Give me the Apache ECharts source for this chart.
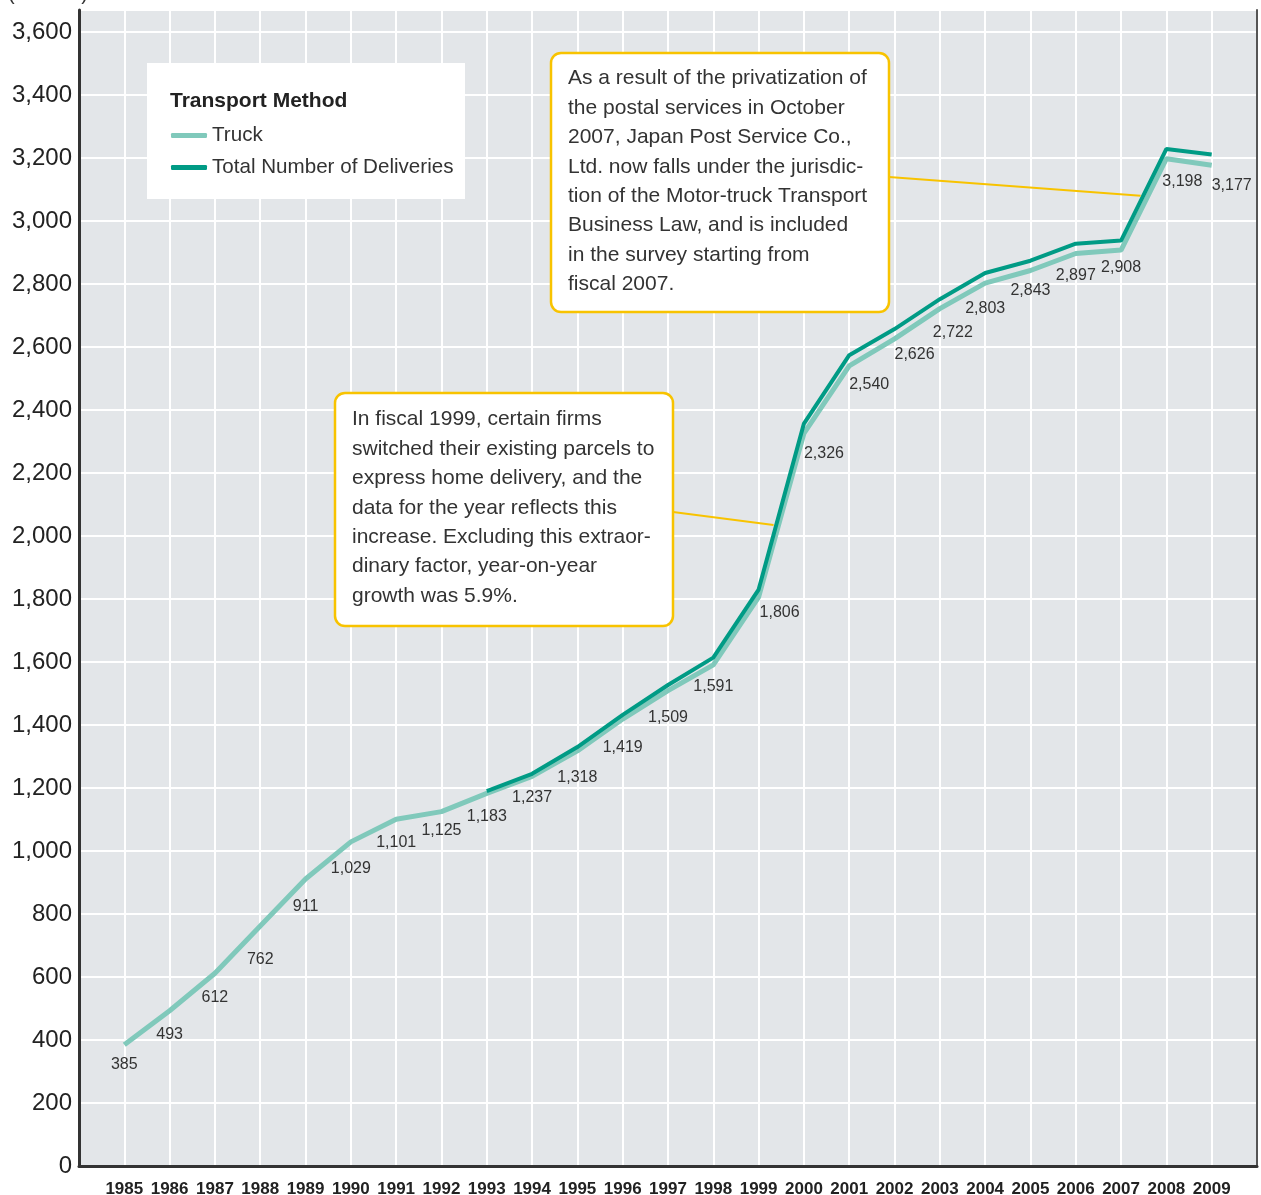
<!DOCTYPE html>
<html>
<head>
<meta charset="utf-8">
<script src="https://cdn.jsdelivr.net/npm/echarts@6/dist/echarts.min.js"></script>
<style>
html,body{margin:0;padding:0;background:#fff;}
#chart{width:1261px;height:1195px;}
</style>
</head>
<body>
<div id="chart"></div>
<script>
// ---- data ----
var years = [1985,1986,1987,1988,1989,1990,1991,1992,1993,1994,1995,1996,1997,1998,1999,2000,2001,2002,2003,2004,2005,2006,2007,2008,2009];
var truckValues = [385,493,612,762,911,1029,1101,1125,1183,1237,1318,1419,1509,1591,1806,2326,2540,2626,2722,2803,2843,2897,2908,3198,3177];
var totalYears = [1993,1994,1995,1996,1997,1998,1999,2000,2001,2002,2003,2004,2005,2006,2007,2008,2009];
var totalValues = [1190,1245,1330,1432,1527,1614,1830,2357,2574,2657,2752,2835,2874,2928,2938,3229,3211];
var yTicks = [0,200,400,600,800,1000,1200,1400,1600,1800,2000,2200,2400,2600,2800,3000,3200,3400,3600];
var seriesNames = ['Truck','Total Number of Deliveries'];
var legendTitle = 'Transport Method';
var unitText = '(Millions)';
var note1999 = ['In fiscal 1999, certain firms','switched their existing parcels to','express home delivery, and the','data for the year reflects this','increase. Excluding this extraor-','dinary factor, year-on-year','growth was 5.9%.'];
var note2007 = ['As a result of the privatization of','the postal services in October','2007, Japan Post Service Co.,','Ltd. now falls under the jurisdic-','tion of the Motor-truck Transport','Business Law, and is included','in the survey starting from','fiscal 2007.'];
// anchor points (data coords) where leader lines touch the curve
var note1999Anchor = [1999.33, 2035];
var note2007Anchor = [2007.43, 3080];

// ---- layout tweaks for value labels (dx, dy in px) ----
var labelNudge = {
  0:[0,-2],1:[0,2],2:[0,2],3:[0,12],4:[0,6],5:[0,5],6:[0,1],7:[0,-3],8:[0,1],9:[0,-1],
  10:[0,5],11:[0,7],12:[0,5],13:[0,0],14:[21,-7],15:[20,-2],16:[20,-3],17:[20,-6],
  18:[13,2],19:[0,4],20:[0,-2],21:[0,0],22:[0,-4],23:[16,1],24:[20,-2]
};

var TRUCK_COLOR = '#80c9bb';
var TOTAL_COLOR = '#009b85';
var YELLOW = '#f8c300';
var regular = "'Liberation Sans',Arial,sans-serif";

var chart = echarts.init(document.getElementById('chart'));

var truckData = years.map(function(y,i){ return [y, truckValues[i]]; });
var totalData = totalYears.map(function(y,i){ return [y, totalValues[i]]; });

function fmt(v){ return v.toString().replace(/\B(?=(\d{3})+(?!\d))/g, ','); }

var option = {
  animation:false,
  backgroundColor:'#ffffff',
  grid:{left:79, right:4, top:10, bottom:29, show:true, backgroundColor:'#e3e6e9', borderWidth:0, outerBoundsMode:'none', containLabel:false},
  xAxis:{
    type:'value', min:1984, max:2010, interval:1,
    axisLine:{show:true, lineStyle:{color:'#333', width:3}},
    axisTick:{show:false},
    splitLine:{show:true, lineStyle:{color:'#ffffff', width:2}},
    axisLabel:{
      margin:15, color:'#222', fontFamily:regular, fontWeight:'bold', fontSize:17,
      formatter:function(v){ return (v>=years[0] && v<=years[years.length-1]) ? String(v) : ''; }
    }
  },
  yAxis:[{
    type:'value', min:0, max:3670, interval:200,
    axisLine:{show:true, lineStyle:{color:'#333', width:3}},
    axisTick:{show:false},
    splitLine:{show:true, lineStyle:{color:'#ffffff', width:2}},
    axisLabel:{
      showMaxLabel:false, margin:7, color:'#222', fontFamily:regular, fontSize:24,
      padding:[4,0,0,0],
      formatter:function(v){ return yTicks.indexOf(v)>=0 ? fmt(v) : ''; }
    }
  },{
    type:'value', min:0, max:3670, interval:200, position:'right',
    axisLine:{show:true, lineStyle:{color:'#555', width:2}},
    axisTick:{show:false}, axisLabel:{show:false}, splitLine:{show:false}
  }],
  legend:{
    orient:'vertical', left:166, top:120, itemWidth:36, itemHeight:5, itemGap:11,
    icon:'roundRect',
    textStyle:{fontFamily:regular, fontSize:20.6, color:'#333'},
    data:seriesNames
  },
  series:[{
    name:seriesNames[0], type:'line', data:truckData, symbol:'circle', symbolSize:0, showSymbol:true,
    lineStyle:{color:TRUCK_COLOR, width:5}, itemStyle:{color:TRUCK_COLOR},
    label:{show:true, position:'bottom', distance:14, color:'#333', fontFamily:regular, fontSize:16,
      formatter:function(p){ return fmt(p.value[1]); }},
    labelLayout:function(p){
      var n = labelNudge[p.dataIndex] || [0,0];
      return {dx:n[0], dy:n[1], hideOverlap:false};
    },
    z:2
  },{
    name:seriesNames[1], type:'line', data:totalData, symbol:'none',
    lineStyle:{color:TOTAL_COLOR, width:4}, itemStyle:{color:TOTAL_COLOR},
    z:3
  }]
};
chart.setOption(option);

function buildGraphics(){
  var a1 = chart.convertToPixel({gridIndex:0}, note1999Anchor);
  var a2 = chart.convertToPixel({gridIndex:0}, note2007Anchor);
  var textStyle = {fill:'#333', font:'21px ' + regular, lineHeight:29.4};
  var box1 = {x:335, y:393, w:338, h:233};
  var box2 = {x:551, y:53, w:338, h:259};
  return [
    {type:'text', left:8, top:-16, style:{text:unitText, fill:'#333', font:'20px ' + regular}},
    // legend box
    {type:'rect', shape:{x:147, y:63, width:318, height:136}, style:{fill:'#ffffff'}, z:1},
    {type:'text', x:170, y:91, style:{text:legendTitle, fill:'#222', font:'bold 21px ' + regular}, z:2},
    // leader lines
    {type:'line', shape:{x1:box1.x+box1.w, y1:512, x2:a1[0], y2:a1[1]}, style:{stroke:YELLOW, lineWidth:2}, z:5},
    {type:'line', shape:{x1:box2.x+box2.w, y1:177, x2:a2[0], y2:a2[1]}, style:{stroke:YELLOW, lineWidth:2}, z:5},
    // note boxes
    {type:'rect', shape:{x:box1.x, y:box1.y, width:box1.w, height:box1.h, r:10}, style:{fill:'#fff', stroke:YELLOW, lineWidth:2.5}, z:6},
    {type:'text', x:box1.x+17, y:box1.y+12, style:Object.assign({text:note1999.join('\n')}, textStyle), z:7},
    {type:'rect', shape:{x:box2.x, y:box2.y, width:box2.w, height:box2.h, r:10}, style:{fill:'#fff', stroke:YELLOW, lineWidth:2.5}, z:6},
    {type:'text', x:box2.x+17, y:box2.y+11, style:Object.assign({text:note2007.join('\n')}, textStyle), z:7}
  ];
}
chart.setOption({graphic:buildGraphics()});
</script>
</body>
</html>
